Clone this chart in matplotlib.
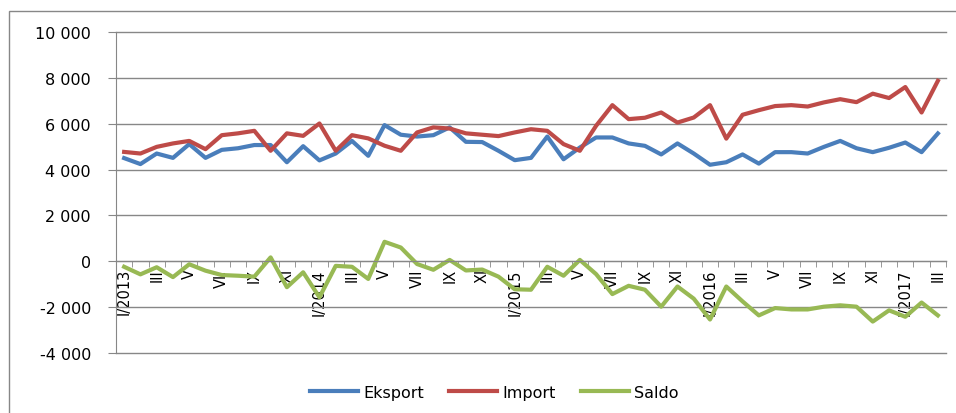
import numpy as np
import matplotlib
matplotlib.use('Agg')
import matplotlib.pyplot as plt
from matplotlib.patches import Rectangle
from matplotlib.ticker import FuncFormatter

# Dane miesięczne I/2013 - III/2017 (mln zł)
eksport = [4500, 4240, 4700, 4510, 5110, 4510, 4860, 4930, 5070, 5070, 4320, 5020,
           4400, 4700, 5250, 4600, 5940, 5520, 5440, 5500, 5840, 5210, 5200, 4820,
           4410, 4510, 5440, 4450, 4960, 5400, 5400, 5140, 5035, 4660, 5140, 4700,
           4210, 4320, 4660, 4260, 4760, 4760, 4700, 4990, 5250, 4930, 4760, 4950,
           5180, 4760, 5575]
imp = [4770, 4700, 4990, 5140, 5250, 4890, 5500, 5580, 5690, 4820, 5580, 5470,
       6010, 4820, 5500, 5360, 5040, 4820, 5620, 5840, 5790, 5580, 5520, 5460,
       5620, 5760, 5690, 5110, 4820, 5910, 6810, 6200, 6260, 6490, 6050, 6270,
       6810, 5350, 6390, 6590, 6770, 6810, 6750, 6930, 7070, 6940, 7310, 7120,
       7600, 6490, 7870]
saldo = [-240, -570, -260, -690, -130, -410, -600, -630, -670, 170, -1130, -480,
         -1570, -200, -240, -770, 850, 600, -120, -370, 60, -400, -360, -670,
         -1220, -1240, -240, -630, 60, -560, -1430, -1070, -1240, -1980, -1100, -1630,
         -2540, -1100, -1750, -2360, -2040, -2100, -2100, -1980, -1920, -1980, -2630, -2140,
         -2420, -1800, -2360]

etykiety = ['I/2013', 'III', 'V', 'VII', 'IX', 'XI',
            'I/2014', 'III', 'V', 'VII', 'IX', 'XI',
            'I/2015', 'III', 'V', 'VII', 'IX', 'XI',
            'I/2016', 'III', 'V', 'VII', 'IX', 'XI',
            'I/2017', 'III']

x = np.arange(len(eksport))
szary = '#878787'

fig = plt.figure(figsize=(9.56, 4.14), dpi=100)
ax = fig.add_axes([116/956, 1 - 354/414, (946 - 116)/956, (354 - 33)/414])

ax.plot(x, eksport, color='#4A7EBB', lw=3, label='Eksport', solid_joinstyle='round')
ax.plot(x, imp, color='#BE4B48', lw=3, label='Import', solid_joinstyle='round')
ax.plot(x, saldo, color='#98B954', lw=3, label='Saldo', solid_joinstyle='round')

ax.set_xlim(-0.5, len(x) - 0.5)
ax.set_ylim(-4000, 10000)
ax.set_yticks(np.arange(-4000, 10001, 2000))
ax.yaxis.set_major_formatter(FuncFormatter(lambda v, p: f'{int(v):,}'.replace(',', ' ')))
ax.grid(axis='y', color=szary, lw=1)
ax.set_axisbelow(True)
for gl in ax.get_ygridlines():
    gl.set_clip_on(False)

for s in ['top', 'right']:
    ax.spines[s].set_visible(False)
ax.spines['left'].set_color(szary)
ax.spines['bottom'].set_position(('data', 0))
ax.spines['bottom'].set_color(szary)

ax.set_xticks(x[::2])
ax.set_xticklabels(etykiety, rotation=90, va='top', ha='center', fontsize=10.5)
ax.set_xticks(np.arange(-0.5, len(x)), minor=True)
ax.tick_params(axis='x', which='major', length=0, pad=5)
ax.tick_params(axis='x', which='minor', length=4, color=szary, direction='out')
ax.tick_params(axis='y', length=6, color=szary, labelsize=11.5, pad=12)

fig.legend(loc='center', bbox_to_anchor=(0.517, 0.05), ncol=3, frameon=False,
           fontsize=11.5, handlelength=3.0, columnspacing=1.6, handletextpad=0.3)

# ramka obszaru wykresu
fig.patches.append(Rectangle((9/956, -0.1), 1.2, 1.1 - 12/414, transform=fig.transFigure,
                             fill=False, edgecolor=szary, lw=1))

fig.savefig('out.png', dpi=100)
